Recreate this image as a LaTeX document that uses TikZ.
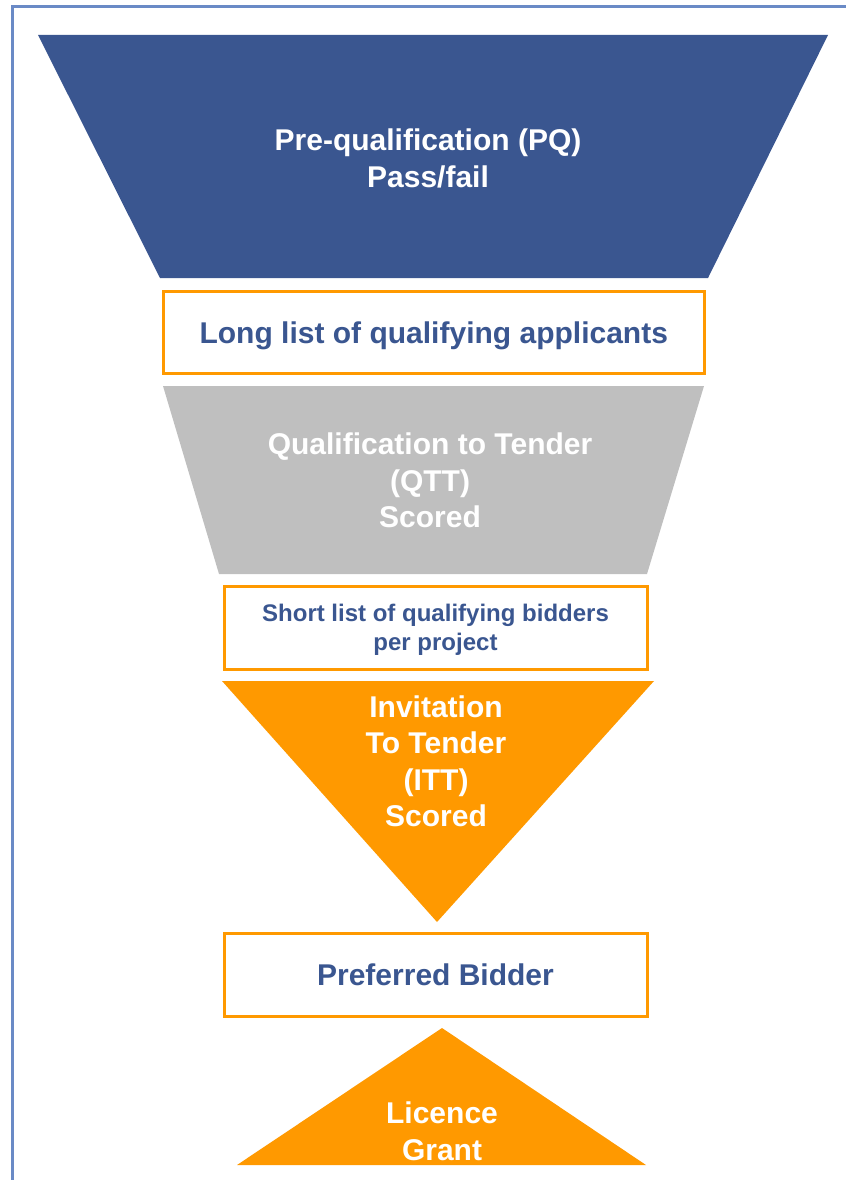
\documentclass[tikz,border=0pt]{standalone}
\usepackage{fontspec}
\setmainfont{Liberation Sans}
\definecolor{funnelblue}{HTML}{3A5690}
\definecolor{funnelgrey}{HTML}{BFBFBF}
\definecolor{funnelorange}{HTML}{FF9900}
\definecolor{framecol}{HTML}{6A8AC6}
\tikzset{
  stagetext/.style={font=\bfseries\fontsize{30}{36.5}\selectfont, align=center, text=white, inner sep=0pt},
  listbox/.style={draw=funnelorange, line width=3pt, fill=white, align=center, text=funnelblue, inner sep=0pt, text depth=0pt, font=\bfseries\fontsize{30}{36.5}\selectfont}
}
\begin{document}
\begin{tikzpicture}[x=1pt,y=-1pt] % Define vertices
    \useasboundingbox (0,0) rectangle (846,1180);
    \coordinate (A) at (38,35); \coordinate (B) at (828,35); \coordinate (C) at (708,278); \coordinate (D) at (160,278); \coordinate (E) at (163,386); \coordinate (F) at (704,386); \coordinate (G) at (647,574); \coordinate (H) at (219,574); \coordinate (I) at (222,681); \coordinate (J) at (654,681); \coordinate (K) at (437,922); \coordinate (L) at (442,1028); \coordinate (M) at (646,1165); \coordinate (N) at (237,1165);

    % Draw funnel stages
    \fill[funnelblue] (A)--(B)--(C)--(D)--cycle;
    \fill[funnelgrey] (E)--(F)--(G)--(H)--cycle;
    \fill[funnelorange] (I)--(J)--(K)--cycle;
    \fill[funnelorange] (L)--(M)--(N)--cycle;

    % Add stage labels
    \node[stagetext] (pq) at (428,158.5) {Pre-qualification (PQ)\\Pass/fail};
    \node[stagetext] (qtt) at (430,480.5) {Qualification to Tender\\(QTT)\\Scored};
    \node[stagetext] (itt) at (436,761.5) {Invitation\\To Tender\\(ITT)\\Scored};
    \node[stagetext] (grant) at (442,1131.5) {Licence\\Grant};

    % Add list boxes
    \node[listbox, minimum width=540.5pt, minimum height=81.5pt] (longlist) at (433.75,332.25) {Long list of qualifying applicants};
    \node[listbox, minimum width=423pt, minimum height=83pt, font=\bfseries\fontsize{24}{29}\selectfont] (shortlist) at (435.5,627.5) {Short list of qualifying bidders\\per project};
    \node[listbox, minimum width=423pt, minimum height=83pt] (preferred) at (435.5,974.5) {Preferred Bidder};

    % Draw frame
    \draw[framecol, line width=3pt] (12,1180) -- (12,7) -- (846,7);

  \end{tikzpicture}
\end{document}
